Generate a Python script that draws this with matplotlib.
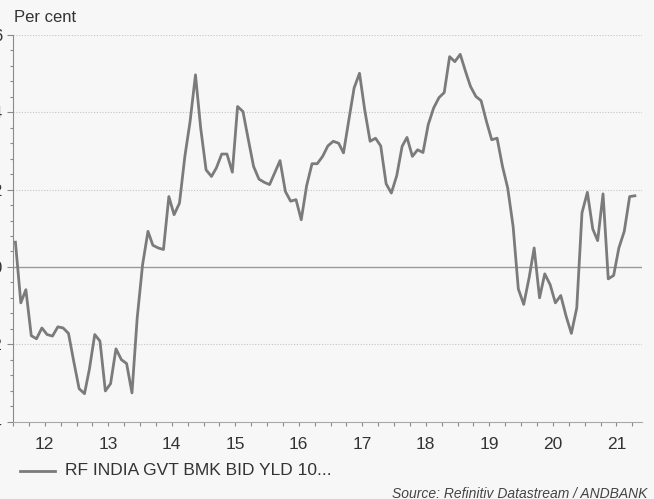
import numpy as np
import pandas as pd
import matplotlib
matplotlib.use("Agg")
import matplotlib.pyplot as plt
import matplotlib.dates as mdates
from matplotlib.ticker import MultipleLocator, FixedLocator, FixedFormatter, NullFormatter

# monthly readings, Jan 2012 - Oct 2021 (per cent)
start_month = "2012-01-01"
yld = [0.64, -0.93, -0.59, -1.78, -1.86, -1.58, -1.75, -1.79, -1.55, -1.58,
       -1.72, -2.44, -3.15, -3.28, -2.65, -1.75, -1.92, -3.21, -3.02, -2.12,
       -2.40, -2.50, -3.26, -1.32, 0.06, 0.92, 0.56, 0.49, 0.45, 1.82,
       1.35, 1.65, 2.86, 3.76, 4.97, 3.59, 2.51, 2.34, 2.56, 2.92,
       2.92, 2.45, 4.15, 4.02, 3.29, 2.60, 2.27, 2.19, 2.13, 2.45,
       2.75, 1.95, 1.70, 1.74, 1.22, 2.10, 2.67, 2.67, 2.86, 3.13,
       3.25, 3.20, 2.95, 3.81, 4.63, 5.01, 4.06, 3.25, 3.33, 3.13,
       2.15, 1.91, 2.36, 3.12, 3.35, 2.86, 3.03, 2.96, 3.68, 4.11,
       4.38, 4.51, 5.44, 5.31, 5.50, 5.05, 4.67, 4.41, 4.30, 3.76,
       3.29, 3.33, 2.60, 2.04, 1.05, -0.57, -0.97, -0.28, 0.49, -0.80,
       -0.18, -0.46, -0.93, -0.74, -1.28, -1.72, -1.06, 1.40, 1.93, 0.98,
       0.68, 1.89, -0.31, -0.22, 0.49, 0.92, 1.82, 1.84]
years = list(range(2012, 2022))
year_labels = [str(y)[2:] for y in years]
yticks = [6, 4, 2, 0, -2, -4]
series_name = "RF INDIA GVT BMK BID YLD 10..."
source = "Source: Refinitiv Datastream / ANDBANK"

dates = pd.date_range(start_month, periods=len(yld), freq="MS") + pd.Timedelta(days=14)

plt.rcParams["font.family"] = ["Liberation Sans", "DejaVu Sans"]
bg = "#f7f7f7"
W, H = 654, 499
fig = plt.figure(figsize=(W / 100, H / 100), dpi=100, facecolor=bg)
ax = fig.add_axes([13 / W, 1 - 421.5 / H, (642 - 13) / W, (421.5 - 35) / H])
ax.set_facecolor(bg)

ax.plot(dates, yld, color="#7b7b7b", lw=2.0, solid_joinstyle="round", zorder=3)

ax.set_ylim(-4, 6)
ax.set_xlim(pd.Timestamp("2012-01-01"), pd.Timestamp("2021-11-25"))

for v in [6, 4, 2, -2]:
    ax.axhline(v, color="#c4c4c4", lw=0.8, ls=(0, (1, 1.5)), zorder=1)
ax.axhline(0, color="#9a9a9a", lw=1.0, zorder=2)

ax.yaxis.set_major_locator(FixedLocator(yticks))
ax.set_yticklabels([str(v) for v in yticks])
ax.yaxis.set_minor_locator(MultipleLocator(0.4))
ax.tick_params(axis="y", which="major", length=4, width=0.8, color="#8a8a8a",
               pad=4, labelsize=12, labelcolor="#333333")
ax.tick_params(axis="y", which="minor", length=2.5, width=0.8, color="#8a8a8a")

# quarterly tick marks, year labels centred mid-year
ax.xaxis.remove_overlapping_locs = False
ax.xaxis.set_major_locator(mdates.MonthLocator(bymonth=[1, 4, 7, 10]))
ax.xaxis.set_major_formatter(NullFormatter())
ax.xaxis.set_minor_locator(FixedLocator([mdates.date2num(pd.Timestamp(f"{y}-07-01")) for y in years]))
ax.xaxis.set_minor_formatter(FixedFormatter(year_labels))
ax.tick_params(axis="x", which="major", length=3, width=0.8, color="#8a8a8a")
ax.tick_params(axis="x", which="minor", length=0, pad=11, labelsize=12.5, labelcolor="#333333")

for s in ["top", "right"]:
    ax.spines[s].set_visible(False)
ax.spines["left"].set_color("#8a8a8a")
ax.spines["left"].set_linewidth(0.8)
ax.spines["bottom"].set_color("#a8a8a8")
ax.spines["bottom"].set_linewidth(0.8)

fig.text(14 / W, 1 - 17 / H, "Per cent", fontsize=12, color="#333333", va="center", ha="left")

fig.lines.append(plt.Line2D([20 / W, 55 / W], [1 - 470.5 / H, 1 - 470.5 / H],
                            transform=fig.transFigure, color="#7b7b7b", lw=2.0))
fig.text(65 / W, 1 - 470.5 / H, series_name, fontsize=12.5, color="#333333",
         va="center", ha="left")
fig.text(647 / W, 1 - 494 / H, source, fontsize=10, style="italic", color="#444444",
         va="center", ha="right")

fig.savefig("out.png", dpi=100, facecolor=bg)
